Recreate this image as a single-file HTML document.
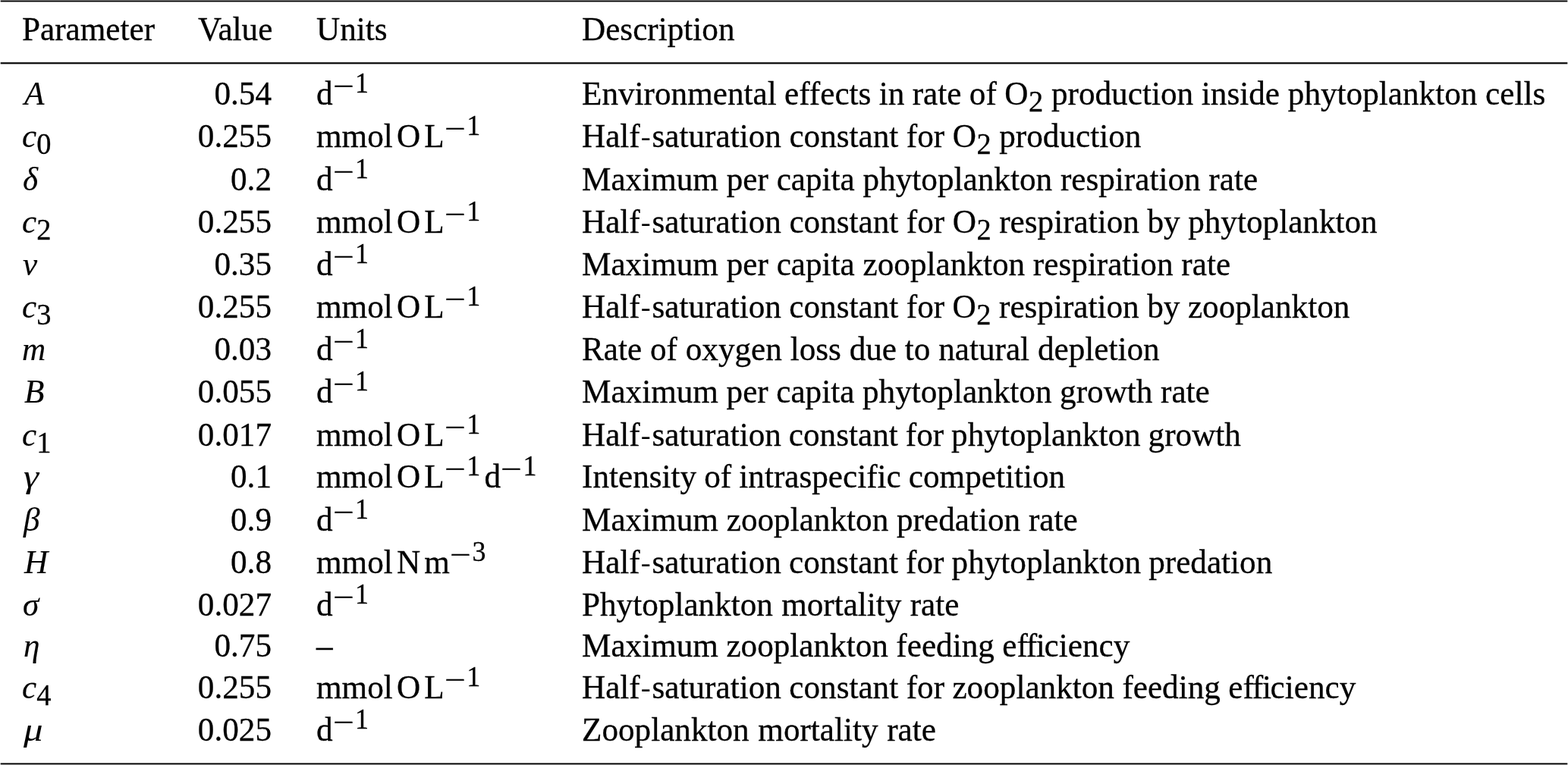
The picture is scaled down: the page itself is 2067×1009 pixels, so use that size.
<!DOCTYPE html>
<html lang="en"><head><meta charset="utf-8"><title>Parameters</title>
<style>
html,body{margin:0;padding:0;background:#fff;}
body{width:2067px;height:1009px;position:relative;overflow:hidden;
 font-family:"Liberation Serif",serif;font-size:43.2px;line-height:56px;color:#000;-webkit-text-stroke:0.3px #000;}
.rule{position:absolute;left:0;width:2067px;}
.r{position:absolute;left:0;width:2067px;height:56px;white-space:nowrap;transform:scaleY(1.035);transform-origin:0 42.00px;}
.r>span{position:absolute;top:0;white-space:nowrap;}
.c1{left:29px;}
.c2{left:200px;width:158px;text-align:right;}
.hv{left:201.4px;}
i.w{display:inline-block;transform:scaleX(1.18);transform-origin:0 50%;-webkit-text-stroke:0;}
.c3{left:417px;}
.c4{left:767px;}
i{font-style:italic;-webkit-text-stroke:0.15px #000;}
.hy{display:inline-block;-webkit-text-stroke:0;transform:scale(0.9,0.8);transform-origin:50% 32.5px;margin-left:0.5px;margin-right:0.9px;}
.o3{margin-left:3px;}.o2{margin-left:2px;}.o1{margin-left:1px;}
.fi{letter-spacing:-1.3px;}
.c4 sub{margin-left:0.5px;margin-right:0;}
b{display:inline-block;width:5.2px;height:0;overflow:hidden;font-weight:normal;font-size:0;line-height:0;white-space:pre;vertical-align:baseline;}
sup,sub{font-size:0.833em;line-height:0;vertical-align:baseline;position:relative;}
sup{top:-0.412em;}
sub{font-size:0.89em;top:0.226em;}
u{text-decoration:none;display:inline-block;width:0.82em;transform:scaleX(1.37);transform-origin:0 50%;position:relative;top:0.072em;}
</style></head><body>
<div role="table" aria-label="Model parameters">
<div class="rule" style="top:0px;height:1px;background:linear-gradient(90deg,rgb(219,219,219) 1px,rgb(136,136,136) 1px,rgb(136,136,136) 2066px,rgb(219,219,219) 2066px)"></div>
<div class="rule" style="top:1px;height:1px;background:linear-gradient(90deg,rgb(178,178,178) 1px,rgb(0,0,0) 1px,rgb(0,0,0) 2066px,rgb(178,178,178) 2066px)"></div>
<div class="rule" style="top:2px;height:1px;background:linear-gradient(90deg,rgb(219,219,219) 1px,rgb(138,138,138) 1px,rgb(138,138,138) 2066px,rgb(219,219,219) 2066px)"></div>
<div class="rule" style="top:81px;height:1px;background:linear-gradient(90deg,rgb(250,250,250) 1px,rgb(240,240,240) 1px,rgb(240,240,240) 2066px,rgb(250,250,250) 2066px)"></div>
<div class="rule" style="top:82px;height:1px;background:linear-gradient(90deg,rgb(197,197,197) 1px,rgb(64,64,64) 1px,rgb(64,64,64) 2066px,rgb(197,197,197) 2066px)"></div>
<div class="rule" style="top:83px;height:1px;background:linear-gradient(90deg,rgb(178,178,178) 1px,rgb(0,0,0) 1px,rgb(0,0,0) 2066px,rgb(178,178,178) 2066px)"></div>
<div class="rule" style="top:84px;height:1px;background:linear-gradient(90deg,rgb(224,224,224) 1px,rgb(153,153,153) 1px,rgb(153,153,153) 2066px,rgb(224,224,224) 2066px)"></div>
<div class="rule" style="top:1006px;height:1px;background:linear-gradient(90deg,rgb(212,212,212) 1px,rgb(112,112,112) 1px,rgb(112,112,112) 2066px,rgb(212,212,212) 2066px)"></div>
<div class="rule" style="top:1007px;height:1px;background:linear-gradient(90deg,rgb(178,178,178) 1px,rgb(0,0,0) 1px,rgb(0,0,0) 2066px,rgb(178,178,178) 2066px)"></div>
<div class="rule" style="top:1008px;height:1px;background:linear-gradient(90deg,rgb(224,224,224) 1px,rgb(153,153,153) 1px,rgb(153,153,153) 2066px,rgb(224,224,224) 2066px)"></div>
<div class="r" role="row" style="top:11.10px"><span class="c1" role="columnheader">Parameter</span><span class="c2 hv" role="columnheader">Value</span><span class="c3" role="columnheader">Units</span><span class="c4" role="columnheader">Description</span></div>
<div class="r" role="row" style="top:96px"><span class="c1" role="cell"><i class="o3">A</i></span><span class="c2" role="cell">0.54</span><span class="c3" role="cell">d<sup><u>−</u>1</sup></span><span class="c4" role="cell"><span style="word-spacing:-0.4px">Environmental effects in rate of </span>O<sub>2</sub> production inside phytoplankton cells</span></div>
<div class="r" role="row" style="top:152px"><span class="c1" role="cell"><i>c</i><sub>0</sub></span><span class="c2" role="cell">0.255</span><span class="c3" role="cell">mmol<b> </b>O<b> </b>L<sup><u>−</u>1</sup></span><span class="c4" role="cell" style="word-spacing:-0.25px">Half<span class="hy">-</span>saturation constant for O<sub>2</sub> production</span></div>
<div class="r" role="row" style="top:209px"><span class="c1" role="cell"><i class="o1">δ</i></span><span class="c2" role="cell">0.2</span><span class="c3" role="cell">d<sup><u>−</u>1</sup></span><span class="c4" role="cell">Maximum per capita phytoplankton respiration rate</span></div>
<div class="r" role="row" style="top:265px"><span class="c1" role="cell"><i>c</i><sub>2</sub></span><span class="c2" role="cell">0.255</span><span class="c3" role="cell">mmol<b> </b>O<b> </b>L<sup><u>−</u>1</sup></span><span class="c4" role="cell" style="word-spacing:-0.25px">Half<span class="hy">-</span>saturation constant for O<sub>2</sub> respiration by phytoplankton</span></div>
<div class="r" role="row" style="top:321px"><span class="c1" role="cell"><i class="o1">ν</i></span><span class="c2" role="cell">0.35</span><span class="c3" role="cell">d<sup><u>−</u>1</sup></span><span class="c4" role="cell">Maximum per capita zooplankton respiration rate</span></div>
<div class="r" role="row" style="top:377px"><span class="c1" role="cell"><i>c</i><sub>3</sub></span><span class="c2" role="cell">0.255</span><span class="c3" role="cell">mmol<b> </b>O<b> </b>L<sup><u>−</u>1</sup></span><span class="c4" role="cell" style="word-spacing:-0.3px">Half<span class="hy">-</span>saturation constant for O<sub>2</sub> respiration by zooplankton</span></div>
<div class="r" role="row" style="top:433px"><span class="c1" role="cell"><i>m</i></span><span class="c2" role="cell">0.03</span><span class="c3" role="cell">d<sup><u>−</u>1</sup></span><span class="c4" role="cell">Rate of oxygen loss due to natural depletion</span></div>
<div class="r" role="row" style="top:489px"><span class="c1" role="cell"><i class="o3">B</i></span><span class="c2" role="cell">0.055</span><span class="c3" role="cell">d<sup><u>−</u>1</sup></span><span class="c4" role="cell" style="word-spacing:-0.2px">Maximum per capita phytoplankton growth rate</span></div>
<div class="r" role="row" style="top:546px"><span class="c1" role="cell"><i>c</i><sub>1</sub></span><span class="c2" role="cell">0.017</span><span class="c3" role="cell">mmol<b> </b>O<b> </b>L<sup><u>−</u>1</sup></span><span class="c4" role="cell" style="word-spacing:-0.8px">Half<span class="hy">-</span>saturation constant for phytoplankton growth</span></div>
<div class="r" role="row" style="top:601px"><span class="c1" role="cell"><i class="o2 w">γ</i></span><span class="c2" role="cell">0.1</span><span class="c3" role="cell">mmol<b> </b>O<b> </b>L<sup><u>−</u>1</sup><b> </b>d<sup><u>−</u>1</sup></span><span class="c4" role="cell" style="word-spacing:-0.7px">Intensity of intraspecific competition</span></div>
<div class="r" role="row" style="top:658px"><span class="c1" role="cell"><i class="o2">β</i></span><span class="c2" role="cell">0.9</span><span class="c3" role="cell">d<sup><u>−</u>1</sup></span><span class="c4" role="cell">Maximum zooplankton predation rate</span></div>
<div class="r" role="row" style="top:714px"><span class="c1" role="cell"><i class="o3">H</i></span><span class="c2" role="cell">0.8</span><span class="c3" role="cell">mmol<b> </b>N<b> </b>m<sup><u>−</u>3</sup></span><span class="c4" role="cell" style="word-spacing:-0.65px">Half<span class="hy">-</span>saturation constant for phytoplankton predation</span></div>
<div class="r" role="row" style="top:770px"><span class="c1" role="cell"><i class="o1">σ</i></span><span class="c2" role="cell">0.027</span><span class="c3" role="cell">d<sup><u>−</u>1</sup></span><span class="c4" role="cell" style="word-spacing:0.4px">Phytoplankton mortality rate</span></div>
<div class="r" role="row" style="top:824px"><span class="c1" role="cell"><i class="o2">η</i></span><span class="c2" role="cell">0.75</span><span class="c3" role="cell">–</span><span class="c4" role="cell" style="word-spacing:-0.35px">Maximum zooplankton feeding e<span class="fi">ffi</span>ciency</span></div>
<div class="r" role="row" style="top:879px"><span class="c1" role="cell"><i>c</i><sub>4</sub></span><span class="c2" role="cell">0.255</span><span class="c3" role="cell">mmol<b> </b>O<b> </b>L<sup><u>−</u>1</sup></span><span class="c4" role="cell" style="word-spacing:-0.35px">Half<span class="hy">-</span>saturation constant for zooplankton feeding e<span class="fi">ffi</span>ciency</span></div>
<div class="r" role="row" style="top:935px"><span class="c1" role="cell"><i class="o2 w">μ</i></span><span class="c2" role="cell">0.025</span><span class="c3" role="cell">d<sup><u>−</u>1</sup></span><span class="c4" role="cell" style="word-spacing:0.8px">Zooplankton mortality rate</span></div>
</div>
</body></html>
